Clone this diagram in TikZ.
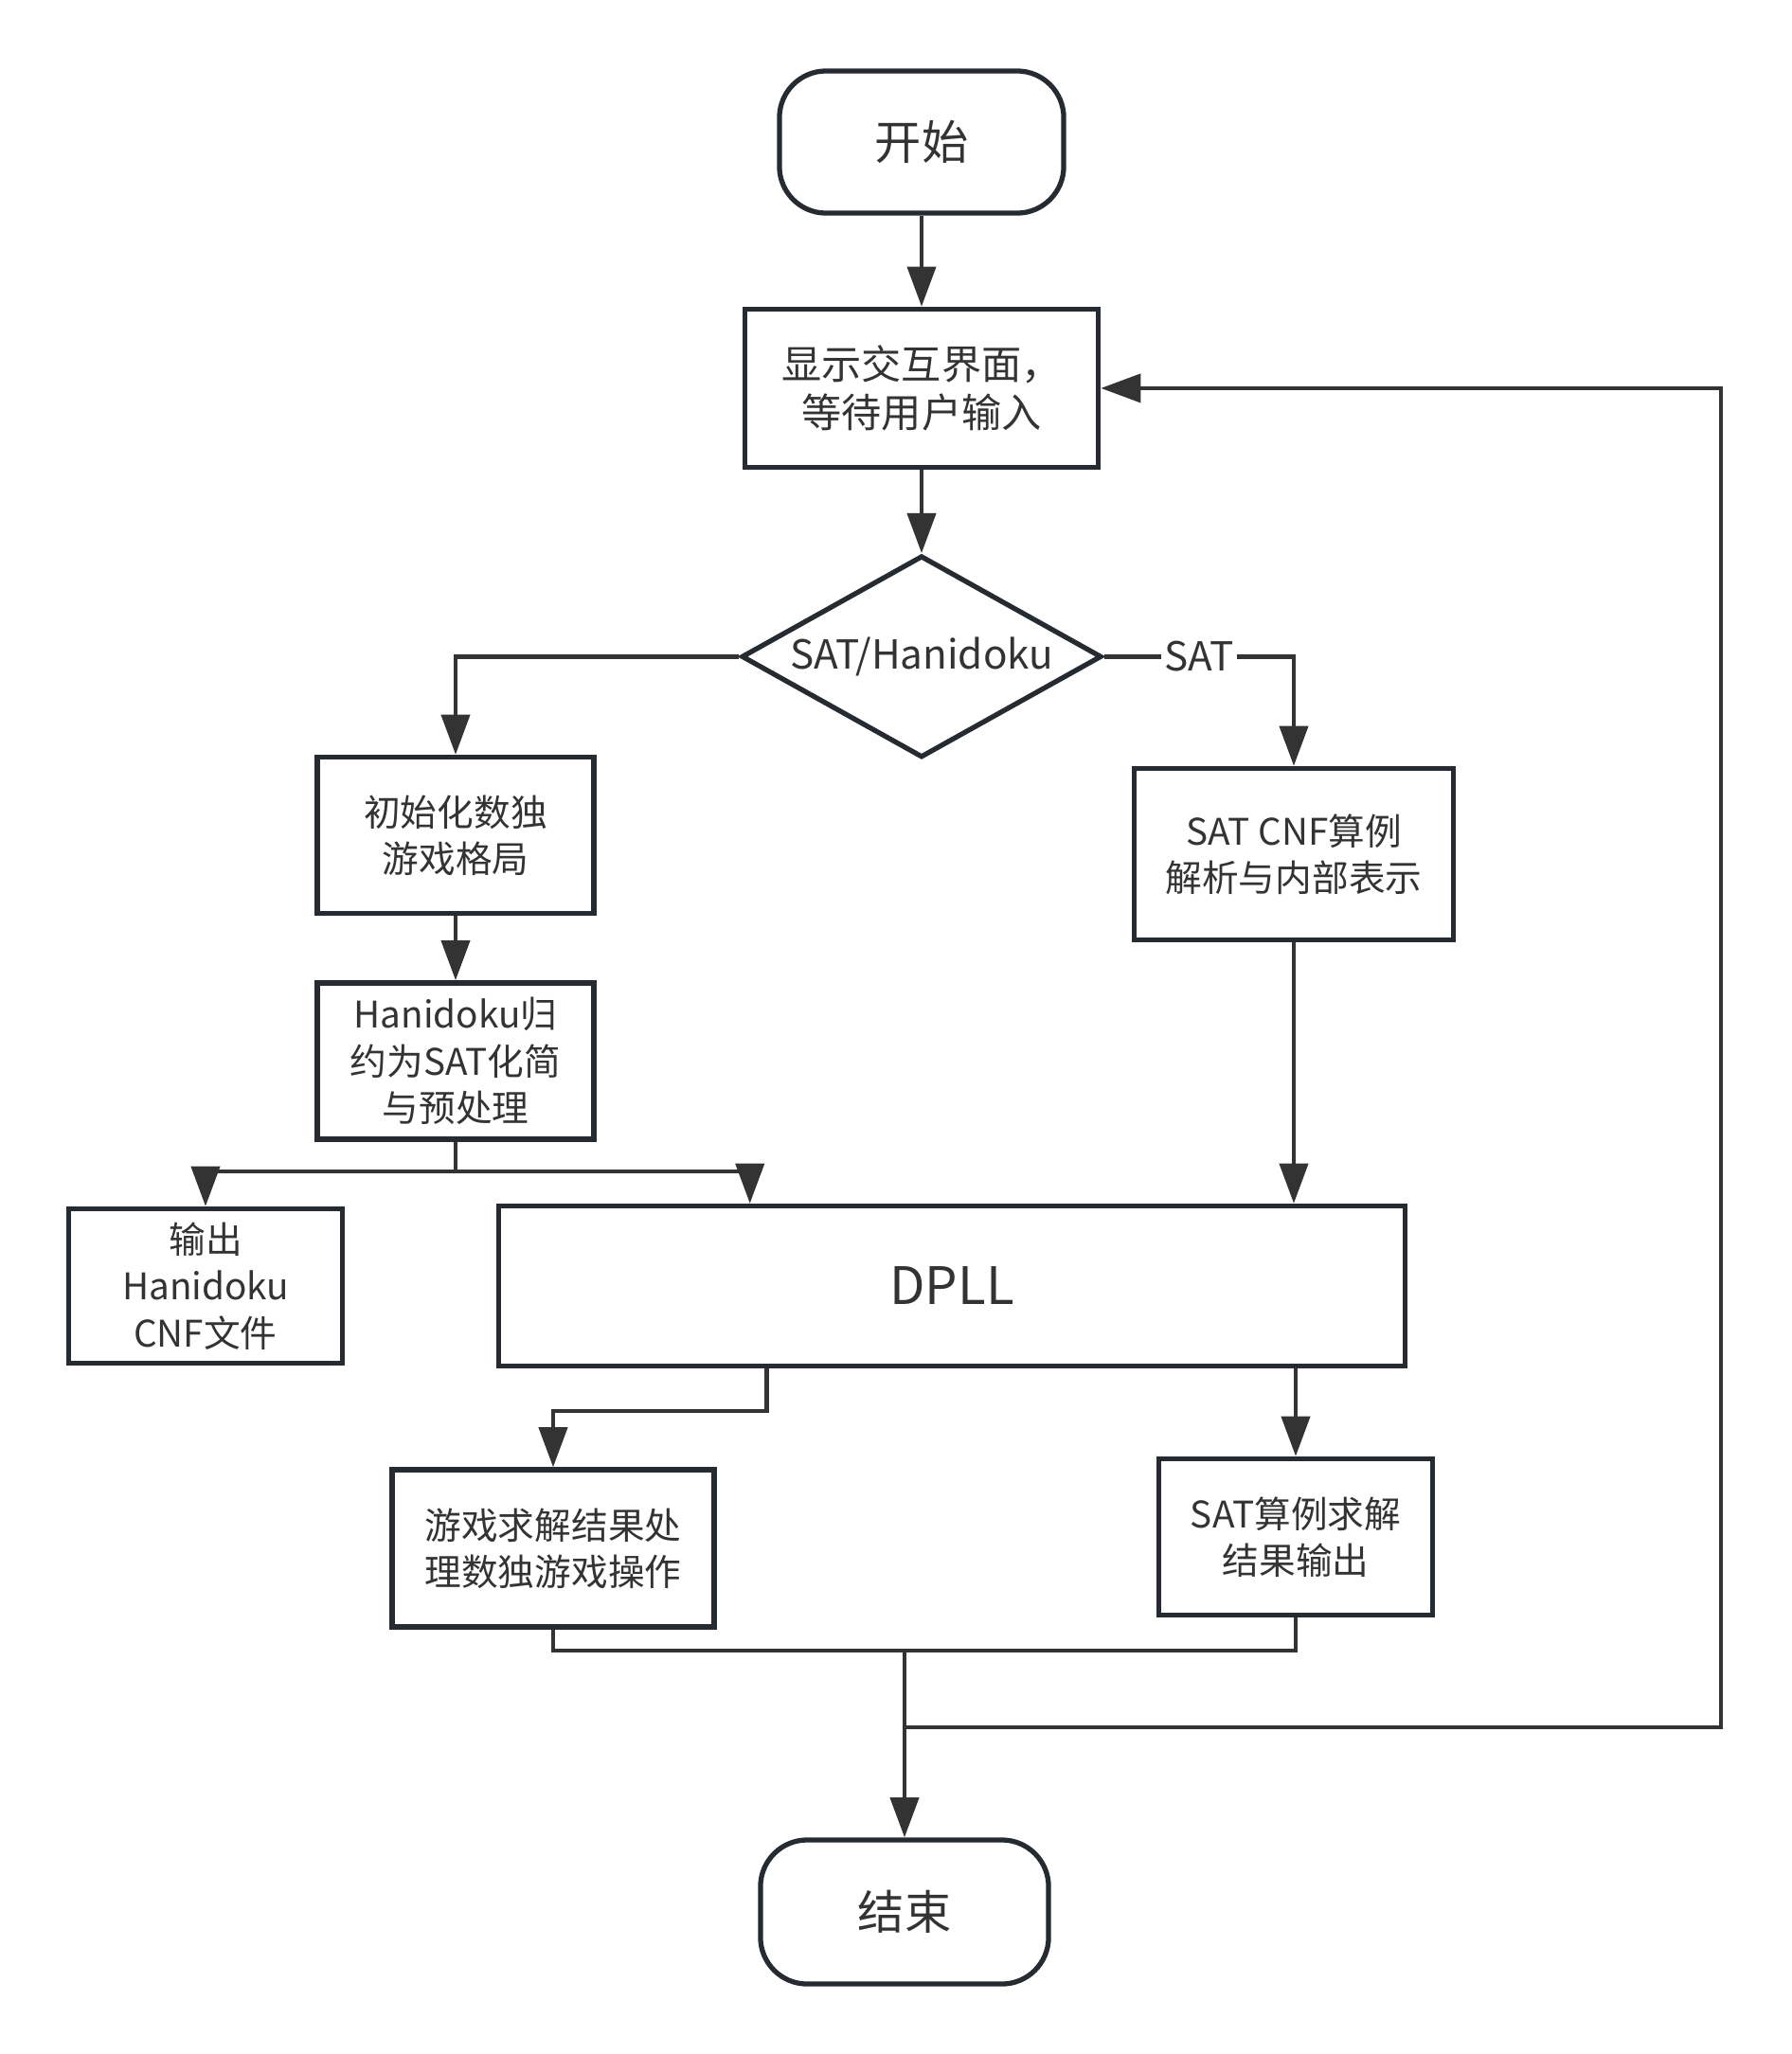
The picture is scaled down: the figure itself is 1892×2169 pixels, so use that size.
\documentclass[tikz,border=0pt]{standalone}
\usepackage{fontspec}
\usepackage{tikz}
\usetikzlibrary{shapes.geometric, arrows.meta, positioning}
\newfontfamily\cjk{Noto Sans CJK SC}
\definecolor{edge}{HTML}{333333}
\definecolor{frame}{HTML}{252B31}

\begin{document}
\begin{tikzpicture}[x=0.01cm, y=-0.01cm, node distance=1cm]
            \tikzstyle{term} = [draw=frame, line width=1.5pt, rectangle, rounded corners=14pt, minimum width=3cm, minimum height=1.5cm, text=edge, font=\cjk\fontsize{14}{16}\selectfont]
            \tikzstyle{proc} = [draw=frame, line width=1.5pt, rectangle, align=center, inner sep=0pt, text=edge, font=\cjk\fontsize{11}{14}\selectfont]
            \tikzstyle{dec} = [draw=frame, line width=1.5pt, diamond, aspect=1.73, inner sep=0pt, minimum width=3.8cm, minimum height=2.13cm, text=edge, font=\cjk\fontsize{12}{14}\selectfont]
            \tikzstyle{line} = [draw=edge, line width=1.3pt, -{Triangle[length=12pt, width=8.5pt]}]
            \tikzstyle{flow} = [draw=edge, line width=1.3pt]

            \useasboundingbox (0,0) rectangle (1892,2169);

            % Start and main menu
            \node[term] (start) at (973,150) {开始};
            \node[proc, minimum width=3.73cm, minimum height=1.67cm, below=0.96cm of start, font=\cjk\fontsize{12}{14.5}\selectfont] (show) {显示交互界面，\\等待用户输入};
            \node[dec, below=0.88cm of show] (dec) {SAT/Hanidoku};

            % Hanidoku branch
            \node[proc, minimum width=2.92cm, minimum height=1.65cm] (init) at (481,882) {初始化数独\\游戏格局};
            \node[proc, minimum width=2.92cm, minimum height=1.65cm, below=0.68cm of init] (reduce) {Hanidoku归\\约为SAT化简\\与预处理};
            \node[proc, minimum width=2.89cm, minimum height=1.63cm] (out) at (217,1358) {输出\\Hanidoku\\CNF文件};

            % SAT branch
            \node[proc, minimum width=3.37cm, minimum height=1.81cm] (cnf) at (1366,902) {SAT CNF算例\\解析与内部表示};

            % Solver
            \node[proc, minimum width=9.57cm, minimum height=1.69cm, font=\cjk\fontsize{15.5}{18}\selectfont] (dpll) at (1005,1358) {DPLL};

            % Results
            \node[proc, minimum width=3.4cm, minimum height=1.66cm] (game) at (584,1635) {游戏求解结果处\\理数独游戏操作};
            \node[proc, minimum width=2.89cm, minimum height=1.65cm] (res) at (1368,1623) {SAT算例求解\\结果输出};
            \node[term, minimum width=3.04cm, minimum height=1.52cm] (end) at (955,2019) {结束};

            % Connections
            \draw[line] (start) -- (show);
            \draw[line] (show) -- (dec);
            \draw[line] (dec.west) -| (init.north);
            \draw[line] (dec.east) -| node[pos=0.25, fill=white, inner sep=1pt, text=edge, font=\cjk\fontsize{12}{14}\selectfont] {SAT} (cnf.north);
            \draw[line] (init) -- (reduce);

            % Split after reduction
            \coordinate (split) at (481,1237);
            \coordinate (dpllin) at ([xshift=2.68cm]dpll.north west);
            \draw[flow] (reduce.south) -- (split);
            \draw[line] (split) -| (out.north);
            \draw[line] (split) -| (dpllin);
            \draw[line] (cnf.south) -- (cnf.south |- dpll.north);

            % Solver outputs
            \coordinate (dplla) at ([xshift=2.86cm]dpll.south west);
            \draw[line] (dplla) -- ++(0,45) -| (game.north);
            \draw[line] (res.north |- dpll.south) -- (res.north);

            % Merge, end and loop back
            \coordinate (merge) at (955,1743);
            \coordinate (loop) at (955,1824);
            \draw[flow] (game.south) |- (merge);
            \draw[flow] (res.south) |- (merge);
            \draw[line] (merge) -- (end.north);
            \draw[line] (loop) -- ++(862,0) |- (show.east);
        \end{tikzpicture}
\end{document}
